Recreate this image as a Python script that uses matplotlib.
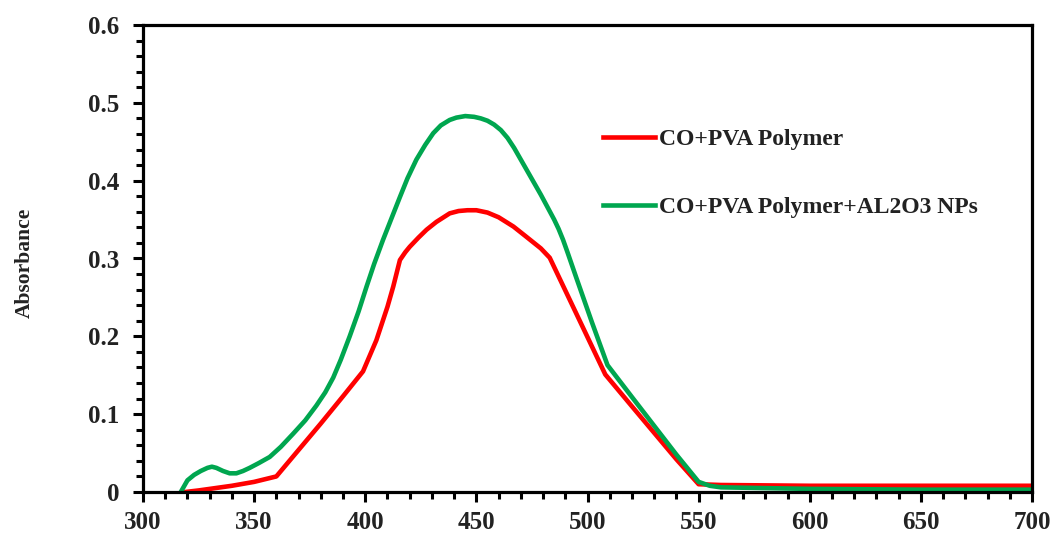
import matplotlib
matplotlib.use("Agg")
import matplotlib.pyplot as plt
from matplotlib.ticker import MultipleLocator, FuncFormatter
from matplotlib.lines import Line2D

red_x = [319, 325, 330, 340, 350, 360, 370, 380, 390, 399, 405, 410, 412.6, 415.6, 418, 420, 424, 427.6,
         432, 438, 442, 446, 450, 455, 460, 466.7, 472, 479, 483, 490, 500, 508, 520, 530, 540, 550, 560,
         600, 650, 700]
red_y = [0.0, 0.002, 0.004, 0.008, 0.013, 0.020, 0.054, 0.088, 0.123, 0.155, 0.195, 0.238, 0.264, 0.298,
         0.308, 0.315, 0.327, 0.337, 0.347, 0.358, 0.361, 0.362, 0.362, 0.359, 0.353, 0.341, 0.329, 0.313,
         0.301, 0.259, 0.199, 0.151, 0.110, 0.076, 0.042, 0.010, 0.009, 0.008, 0.008, 0.008]

green_x = [317, 320, 323, 326, 329, 331, 333, 336, 339, 342, 345, 348, 352, 357, 362, 367.6, 373, 378, 382,
           385.6, 389, 393, 397, 400.6, 404, 408, 412, 415.6, 419, 423, 427, 430.6, 434, 438, 441, 445,
           449, 452, 455, 458, 461, 464, 467, 471, 475, 479, 482, 485, 487, 489, 491, 495, 502, 509, 520,
           530, 540, 550, 555, 560, 580, 600, 650, 700]
green_y = [0.0, 0.015, 0.022, 0.027, 0.031, 0.0325, 0.031, 0.027, 0.024, 0.024, 0.027, 0.031, 0.037, 0.045,
           0.058, 0.075, 0.092, 0.111, 0.128, 0.147, 0.170, 0.200, 0.232, 0.264, 0.293, 0.324, 0.353, 0.379,
           0.403, 0.427, 0.446, 0.461, 0.471, 0.478, 0.481, 0.483, 0.482, 0.480, 0.477, 0.472, 0.465, 0.455,
           0.442, 0.422, 0.402, 0.382, 0.366, 0.350, 0.338, 0.324, 0.308, 0.275, 0.218, 0.163, 0.122, 0.085,
           0.048, 0.013, 0.008, 0.006, 0.005, 0.004, 0.003, 0.003]

labels = ["CO+PVA Polymer", "CO+PVA Polymer+AL2O3 NPs"]
colors = ["#FF0000", "#00A64F"]
y_label = "Absorbance"

plt.rcParams['font.family'] = ['Liberation Serif', 'DejaVu Serif']
plt.rcParams['font.weight'] = 'bold'

fig = plt.figure(figsize=(10.5, 5.56), dpi=100)
ax = fig.add_axes([143/1050, 1-492/556, (1032-143)/1050, (492-25)/556])

ax.plot(red_x, red_y, color=colors[0], lw=3.3, solid_joinstyle='round', solid_capstyle='round')
ax.plot(green_x, green_y, color=colors[1], lw=3.3, solid_joinstyle='round', solid_capstyle='round')

ax.set_xlim(300, 700)
ax.set_ylim(0, 0.6)
ax.xaxis.set_major_locator(MultipleLocator(50))
ax.xaxis.set_minor_locator(MultipleLocator(10))
ax.yaxis.set_major_locator(MultipleLocator(0.1))
ax.yaxis.set_minor_locator(MultipleLocator(0.02))

def yfmt(v, pos):
    if abs(v) < 1e-9:
        return "0"
    return f"{v:.1f}"
ax.yaxis.set_major_formatter(FuncFormatter(yfmt))

for s in ax.spines.values():
    s.set_linewidth(2.3)
    s.set_color('black')

ax.tick_params(axis='both', which='major', direction='out', length=7, width=2.2,
               labelsize=18, colors='black', labelcolor='#222222')
ax.tick_params(axis='both', which='minor', direction='out', length=5, width=2.2, colors='black')
ax.tick_params(axis='x', which='major', pad=7)
ax.tick_params(axis='y', which='major', pad=10)
ax.tick_params(top=False, right=False, which='both')
for lab in ax.get_xticklabels() + ax.get_yticklabels():
    lab.set_fontweight('bold')

fig.text(25/1050, 1-263/556, y_label, rotation=90, ha='center', va='center',
         fontsize=15.5, fontweight='bold', color='#222222')

handles = [Line2D([], [], color=c, lw=3.3) for c in colors]
leg = ax.legend(handles, labels, loc='upper left', frameon=False,
                bbox_to_anchor=(591/1050, 1-117/556), bbox_transform=fig.transFigure,
                borderpad=0, handlelength=2.2, handletextpad=0.17, labelspacing=1.95,
                prop={'family': 'Liberation Serif', 'weight': 'bold', 'size': 17})
for t in leg.get_texts():
    t.set_color('#222222')

fig.savefig("out.png", dpi=100)
